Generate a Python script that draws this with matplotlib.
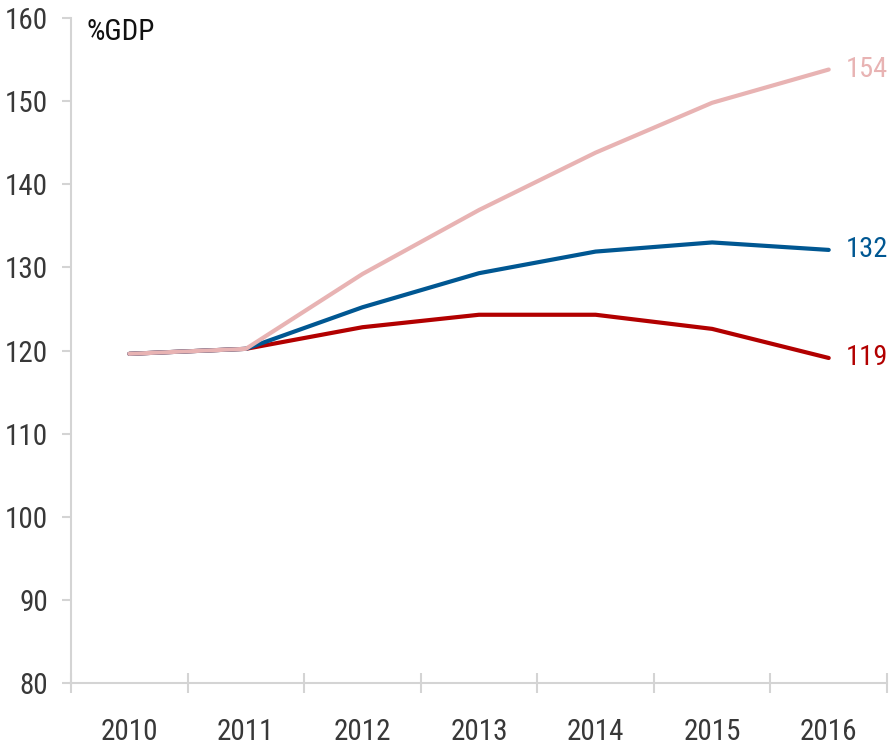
import matplotlib

matplotlib.use("Agg")
import matplotlib.pyplot as plt
import numpy as np

years = ["2010", "2011", "2012", "2013", "2014", "2015", "2016"]
pink_vals = [119.6, 120.2, 129.2, 136.9, 143.8, 149.8, 153.8]
blue_vals = [119.6, 120.2, 125.2, 129.3, 131.9, 133.0, 132.1]
red_vals = [119.6, 120.2, 122.8, 124.3, 124.3, 122.6, 119.1]
y_ticks = [80, 90, 100, 110, 120, 130, 140, 150, 160]

PINK = "#e8b3b3"
BLUE = "#005792"
RED = "#b20000"
GRID = "#d4d4d4"
TEXT = "#383838"
FS = 21

plt.rcParams["font.family"] = ["Roboto Condensed", "DejaVu Sans"]

fig = plt.figure(figsize=(8.9, 7.47), dpi=100)
ax = fig.add_axes([71 / 890, 64 / 747, 816 / 890, 665 / 747])

x = np.arange(len(years))
for vals, col in [(red_vals, RED), (blue_vals, BLUE), (pink_vals, PINK)]:
    ax.plot(x, vals, color=col, lw=3.0, solid_capstyle="round", zorder=3)
    ax.text(x[-1] + 0.15, vals[-1], f"{round(vals[-1])}", color=col,
            fontsize=20.5, va="center", ha="left", clip_on=False)

ax.set_xlim(-0.5, len(years) - 0.5)
ax.set_ylim(80, 160)

# year labels sit at the centres, tick marks at the boundaries between years
ax.set_xticks(x)
ax.set_xticklabels(years)
ax.set_xticks(np.arange(len(years) + 1) - 0.5, minor=True)
ax.tick_params(axis="x", which="major", length=0, pad=25, labelsize=FS, labelcolor=TEXT)
ax.tick_params(axis="x", which="minor", direction="inout", length=14, width=1.5, color=GRID)

ax.set_yticks(y_ticks)
ax.tick_params(axis="y", direction="out", length=6.5, width=1.5, color=GRID,
               pad=10, labelsize=FS, labelcolor=TEXT)

for side in ("top", "right"):
    ax.spines[side].set_visible(False)
for side in ("left", "bottom"):
    ax.spines[side].set_color(GRID)
    ax.spines[side].set_linewidth(1.5)

ax.text(16 / 816, 1.0, "%GDP", transform=ax.transAxes, fontsize=FS,
        color="#111111", va="top", ha="left")

fig.savefig("out.png", dpi=100)
